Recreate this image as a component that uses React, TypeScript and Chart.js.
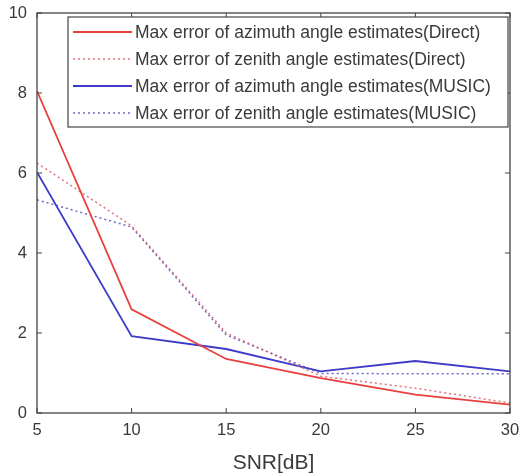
import React, { useEffect, useRef } from "react";
import { Chart, registerables } from "chart.js";

Chart.register(...registerables);

const snrValues = [5, 10, 15, 20, 25, 30];
const azimuthDirect = [8.05, 2.59, 1.35, 0.87, 0.46, 0.21];
const zenithDirect = [6.25, 4.68, 2.0, 0.92, 0.62, 0.25];
const azimuthMusic = [6.02, 1.92, 1.6, 1.04, 1.3, 1.04];
const zenithMusic = [5.33, 4.65, 1.95, 0.99, 0.98, 0.98];

const seriesLabels = [
  "Max error of azimuth angle estimates(Direct)",
  "Max error of zenith angle estimates(Direct)",
  "Max error of azimuth angle estimates(MUSIC)",
  "Max error of zenith angle estimates(MUSIC)",
];
const xTickValues = [5, 10, 15, 20, 25, 30];
const yTickValues = [0, 2, 4, 6, 8, 10];
const xTitle = "SNR[dB]";

const FONT = "'Liberation Sans', Arial, Helvetica, sans-serif";
const AXIS_COLOR = "#444444";
const TEXT_COLOR = "#3a3a3a";

const toPoints = (ys: number[]) => snrValues.map((x, i) => ({ x, y: ys[i] }));

const framePlugin = {
  id: "matlabFrame",
  afterDatasetsDraw(chart: any) {
    const { ctx, chartArea: ca, scales } = chart;
    const xs = scales.x;
    const ys = scales.y;
    ctx.save();
    ctx.strokeStyle = AXIS_COLOR;
    ctx.lineWidth = 1.3;
    ctx.strokeRect(ca.left, ca.top, ca.right - ca.left, ca.bottom - ca.top);
    const tl = 5;
    ctx.lineWidth = 1;
    ctx.beginPath();
    xTickValues.forEach((v) => {
      const px = xs.getPixelForValue(v);
      ctx.moveTo(px, ca.bottom);
      ctx.lineTo(px, ca.bottom - tl);
      ctx.moveTo(px, ca.top);
      ctx.lineTo(px, ca.top + tl);
    });
    yTickValues.forEach((v) => {
      const py = ys.getPixelForValue(v);
      ctx.moveTo(ca.left, py);
      ctx.lineTo(ca.left + tl, py);
      ctx.moveTo(ca.right, py);
      ctx.lineTo(ca.right - tl, py);
    });
    ctx.stroke();

    // legend box
    const bx = ca.left + 31;
    const by = ca.top + 4;
    const bw = ca.right - 2 - bx;
    const bh = 110;
    ctx.fillStyle = "#ffffff";
    ctx.fillRect(bx, by, bw, bh);
    ctx.strokeStyle = AXIS_COLOR;
    ctx.lineWidth = 1.2;
    ctx.strokeRect(bx, by, bw, bh);
    const rowStart = by + 15;
    const rowGap = 27;
    chart.data.datasets.forEach((ds: any, i: number) => {
      const y = rowStart + i * rowGap;
      ctx.save();
      ctx.strokeStyle = ds.borderColor;
      ctx.lineWidth = ds.borderWidth;
      ctx.setLineDash(ds.borderDash || []);
      ctx.beginPath();
      ctx.moveTo(bx + 5, y);
      ctx.lineTo(bx + 64, y);
      ctx.stroke();
      ctx.restore();
      ctx.fillStyle = TEXT_COLOR;
      ctx.font = `17.5px ${FONT}`;
      ctx.textBaseline = "middle";
      ctx.textAlign = "left";
      ctx.fillText(ds.label, bx + 67, y + 1);
    });
    ctx.restore();
  },
};

export default function App() {
  const canvasRef = useRef<HTMLCanvasElement | null>(null);

  useEffect(() => {
    document.body.style.margin = "0";
    const canvas = canvasRef.current;
    if (!canvas) return;
    const chart = new Chart(canvas, {
      type: "line",
      data: {
        datasets: [
          {
            label: seriesLabels[0],
            data: toPoints(azimuthDirect),
            borderColor: "#e8403c",
            borderWidth: 1.8,
            pointRadius: 0,
            tension: 0,
          },
          {
            label: seriesLabels[1],
            data: toPoints(zenithDirect),
            borderColor: "rgba(220,90,100,0.85)",
            borderWidth: 1.5,
            borderDash: [2, 3],
            pointRadius: 0,
            tension: 0,
          },
          {
            label: seriesLabels[2],
            data: toPoints(azimuthMusic),
            borderColor: "#3c3cc8",
            borderWidth: 1.8,
            pointRadius: 0,
            tension: 0,
          },
          {
            label: seriesLabels[3],
            data: toPoints(zenithMusic),
            borderColor: "rgba(80,80,190,0.85)",
            borderWidth: 1.5,
            borderDash: [2, 3],
            pointRadius: 0,
            tension: 0,
          },
        ],
      },
      options: {
        animation: false,
        responsive: false,
        maintainAspectRatio: false,
        layout: { padding: { top: 13, right: 13, left: 0, bottom: 0 } },
        plugins: {
          legend: { display: false },
          tooltip: { enabled: false },
        },
        scales: {
          x: {
            type: "linear",
            min: 5,
            max: 30,
            afterFit: (s: any) => {
              s.height = 63;
              s.paddingLeft = 0;
              s.paddingRight = 0;
            },
            afterBuildTicks: (s: any) => {
              s.ticks = xTickValues.map((v) => ({ value: v }));
            },
            grid: { display: false, drawTicks: false },
            border: { display: false },
            ticks: {
              padding: 8,
              color: TEXT_COLOR,
              font: { family: FONT, size: 16.5 },
              maxRotation: 0,
            },
            title: {
              display: true,
              text: xTitle,
              color: TEXT_COLOR,
              font: { family: FONT, size: 21 },
              padding: { top: 0, bottom: 0 },
            },
          },
          y: {
            type: "linear",
            min: 0,
            max: 10,
            afterFit: (s: any) => {
              s.width = 37;
              s.paddingTop = 0;
              s.paddingBottom = 0;
            },
            afterBuildTicks: (s: any) => {
              s.ticks = yTickValues.map((v) => ({ value: v }));
            },
            grid: { display: false, drawTicks: false },
            border: { display: false },
            ticks: {
              padding: 10,
              color: TEXT_COLOR,
              font: { family: FONT, size: 16.5 },
            },
          },
        },
      },
      plugins: [framePlugin],
    });
    return () => chart.destroy();
  }, []);

  return (
    <div style={{ position: "absolute", left: 0, top: 0, width: 523, height: 476, background: "#fff" }}>
      <canvas ref={canvasRef} width={523} height={476} style={{ width: 523, height: 476 }} />
    </div>
  );
}
